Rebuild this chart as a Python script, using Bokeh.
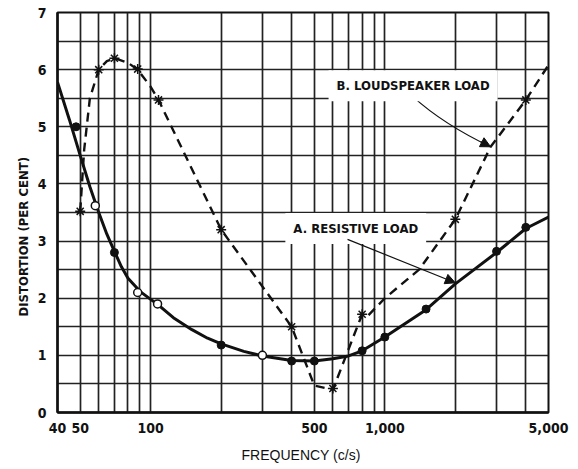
from bokeh.plotting import figure
from bokeh.models import FixedTicker, Label, Arrow, NormalHead, Range1d, Title
from bokeh.embed import file_html
from bokeh.resources import INLINE

# ---- data ----
# Curve A (resistive load): the drawn smooth curve
a_curve_f = [40, 45, 50, 55, 60, 65, 70, 75, 80, 90, 100, 108, 125, 150, 175, 200, 250, 300, 400, 500,
             600, 700, 800, 1000, 1500, 2000, 3000, 4000, 5000]
a_curve_d = [5.78, 5.12, 4.5, 3.95, 3.5, 3.12, 2.82, 2.55, 2.35, 2.12, 1.98, 1.88, 1.66, 1.45, 1.3, 1.2, 1.07,
             0.99, 0.91, 0.9, 0.94, 0.99, 1.08, 1.32, 1.8, 2.25, 2.8, 3.22, 3.42]
# Measured points on A
a_fill_f = [48, 70, 200, 400, 500, 800, 1000, 1500, 3000, 4000]
a_fill_d = [5.0, 2.8, 1.18, 0.9, 0.9, 1.08, 1.32, 1.81, 2.82, 3.24]
a_open_f = [58, 88, 107, 300]
a_open_d = [3.62, 2.1, 1.9, 1.0]

# Curve B (loudspeaker load)
b_curve_f = [50, 52, 55, 60, 65, 70, 80, 88, 100, 108, 200, 400, 500, 600, 800, 850, 1000, 1400, 2000, 2830, 4000, 5000]
b_curve_d = [3.52, 4.6, 5.5, 6.0, 6.15, 6.2, 6.12, 6.0, 5.7, 5.47, 3.2, 1.5, 0.47, 0.4, 1.72, 1.7, 2.0, 2.5, 3.38, 4.65, 5.47, 6.08]
b_star_f = [50, 60, 70, 88, 108, 200, 400, 600, 800, 2000, 4000]
b_star_d = [3.52, 6.0, 6.2, 6.01, 5.47, 3.2, 1.5, 0.42, 1.72, 3.38, 5.47]

x_ticks = [40, 50, 100, 500, 1000, 5000]
x_tick_labels = ["40", "50", "100", "500", "1,000", "5,000"]
x_grid = [40, 50, 60, 70, 80, 90, 100, 200, 300, 400, 500, 600, 700, 800, 900,
          1000, 2000, 3000, 4000, 5000]
y_ticks = [0, 1, 2, 3, 4, 5, 6, 7]
y_grid = [0, 0.5, 1, 1.5, 2, 2.5, 3, 3.5, 4, 4.5, 5, 5.5, 6, 6.5, 7]

FONT = "Liberation Sans Narrow, DejaVu Sans Condensed, sans-serif"
INK = "#111111"

p = figure(width=570, height=465, x_axis_type="log",
           x_range=Range1d(40, 5000), y_range=Range1d(0, 7),
           output_backend="svg", toolbar_location=None,
           min_border_left=57, min_border_right=22, min_border_top=12, min_border_bottom=51)

p.background_fill_color = "white"
p.border_fill_color = "white"
p.outline_line_color = INK
p.outline_line_width = 2

# grid
p.xgrid.ticker = FixedTicker(ticks=x_grid)
p.ygrid.ticker = FixedTicker(ticks=y_grid)
for g in (p.xgrid, p.ygrid):
    g.grid_line_color = "#222222"
    g.grid_line_width = 1.7
    g.grid_line_alpha = 1.0

# axes
p.xaxis.ticker = FixedTicker(ticks=x_ticks)
p.xaxis.major_label_overrides = {t: l for t, l in zip(x_ticks, x_tick_labels)}
p.yaxis.ticker = FixedTicker(ticks=y_ticks)
for ax in (p.xaxis, p.yaxis):
    ax.axis_line_color = INK
    ax.axis_line_width = 2.5
    ax.major_tick_line_color = None
    ax.minor_tick_line_color = None
    ax.major_label_text_font = FONT
    ax.major_label_text_font_style = "bold"
    ax.major_label_text_font_size = "14px"
    ax.major_label_text_color = INK
p.xaxis.major_label_standoff = 4
p.yaxis.major_label_standoff = 5

p.xaxis.axis_label = "FREQUENCY  (c/s)"
p.xaxis.axis_label_text_font = "Liberation Sans, Arial, sans-serif"
p.xaxis.axis_label_text_font_style = "normal"
p.xaxis.axis_label_text_font_size = "14px"
p.xaxis.axis_label_text_color = INK
p.xaxis.axis_label_standoff = 11

# y-axis title, placed on the left, starting near the lower part as in the reference
p.add_layout(Title(text="DISTORTION (PER CENT)", align="left", offset=96,
                   text_font=FONT, text_font_style="bold", text_font_size="13px",
                   text_color=INK, standoff=8), "left")

# curves
p.line(a_curve_f, a_curve_d, line_color=INK, line_width=3)
p.line(b_curve_f, b_curve_d, line_color=INK, line_width=2.4, line_dash="9 6")
p.scatter(a_fill_f, a_fill_d, marker="circle", size=8, fill_color=INK, line_color=INK)
p.scatter(a_open_f, a_open_d, marker="circle", size=8, fill_color="white", line_color=INK, line_width=1.5)
p.scatter(b_star_f, b_star_d, marker="asterisk", size=10, line_color=INK, line_width=1.5)

# labels
lab_b = Label(x=575, y=5.72, text="B. LOUDSPEAKER LOAD", text_font=FONT, text_font_style="bold",
              text_font_size="13px", text_baseline="middle", text_align="left", text_color=INK,
              background_fill_color="white", padding=8)
lab_a = Label(x=376, y=3.22, text="A. RESISTIVE LOAD", text_font=FONT, text_font_style="bold",
              text_font_size="13px", text_baseline="middle", text_align="left", text_color=INK,
              background_fill_color="white", padding=8)
p.add_layout(lab_b)
p.add_layout(lab_a)

# arrows
p.add_layout(Arrow(end=NormalHead(size=10, fill_color=INK, line_color=INK),
                   x_start=693, y_start=3.03, x_end=2000, y_end=2.27,
                   line_color=INK, line_width=1.2))
p.quadratic(x0=[1325], y0=[5.52], x1=[2830], y1=[4.65], cx=[1773], cy=[5.05],
            line_color=INK, line_width=1.2)
p.add_layout(Arrow(end=NormalHead(size=10, fill_color=INK, line_color=INK),
                   x_start=2565, y_start=4.74, x_end=2830, y_end=4.65,
                   line_color=INK, line_width=1.2))

open("out.html", "w").write(file_html(p, INLINE))
